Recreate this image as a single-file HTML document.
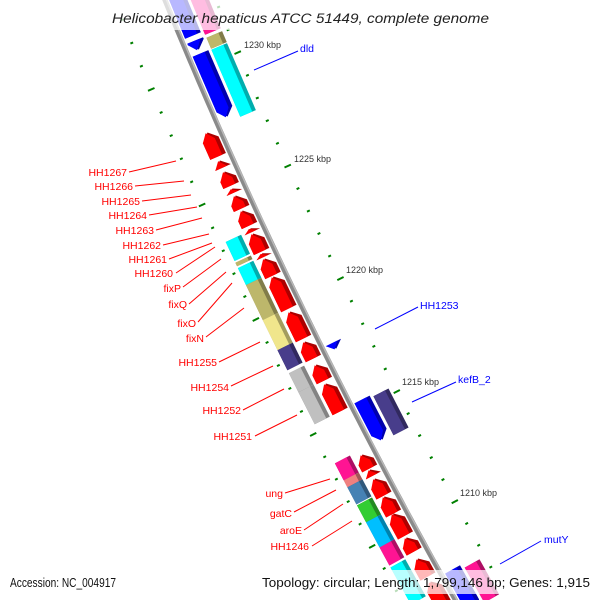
<!DOCTYPE html>
<html><head><meta charset="utf-8"><style>
html,body{margin:0;padding:0;background:#fff;}
svg{display:block;}
text{font-family:"Liberation Sans","DejaVu Sans",sans-serif;}
</style></head><body>
<svg id="s" width="600" height="600" xmlns="http://www.w3.org/2000/svg"></svg>
<script>
var S=document.getElementById('s');var out='';
function Bx(y){return 164.9+0.4076*y+0.0001275*y*y;}
function fr(y){var m=0.4076+0.000255*y,l=Math.hypot(m,1);return {t:[m/l,1/l],n:[1/l,-m/l]};}
function P(yb,f,s,d){return [Bx(yb)+s*f.t[0]+d*f.n[0], yb+s*f.t[1]+d*f.n[1]];}
function dark(c){var r=parseInt(c.substr(1,2),16),g=parseInt(c.substr(3,2),16),b=parseInt(c.substr(5,2),16);
 return 'rgb('+Math.round(r*.68)+','+Math.round(g*.68)+','+Math.round(b*.68)+')';}
var lanes={Ri:[4,21],Ro:[24,41],Li:[-21,-4],Lo:[-41,-24]};
function shape(yb,f,L,d1,d2,dir){
 var h=Math.min(8,L),a=-L/2,b=L/2,dm=(d1+d2)/2,pts;
 if(dir==1)pts=[[a,d1],[b-h,d1],[b,dm],[b-h,d2],[a,d2]];
 else if(dir==-1)pts=[[b,d1],[a+h,d1],[a,dm],[a+h,d2],[b,d2]];
 else pts=[[a,d1],[b,d1],[b,d2],[a,d2]];
 return pts.map(function(p){var q=P(yb,f,p[0],p[1]);return q[0].toFixed(1)+','+q[1].toFixed(1);}).join(' ');
}
function gene(y1,y2,lane,col,dir){
 var d=lanes[lane],dmid=(d[0]+d[1])/2,yc=(y1+y2)/2,f=fr(yc);
 var yb=yc+dmid*f.t[0];f=fr(yb);
 var L=Math.max(4,(y2-y1-3)/f.t[1]);
 out+='<polygon points="'+shape(yb,f,L,d[0],d[1],dir)+'" fill="'+dark(col)+'"/>';
 out+='<polygon points="'+shape(yb,f,L,d[0],d[1]-4,dir)+'" fill="'+col+'"/>';
}
var pts=[],pts2=[];for(var y=-10;y<=610;y+=10){var f=fr(y);pts.push(Bx(y).toFixed(1)+','+y);pts2.push((Bx(y)+1.5*f.n[0]).toFixed(1)+','+(y+1.5*f.n[1]).toFixed(1));}
out+='<polyline points="'+pts.join(' ')+'" fill="none" stroke="#8a8a8a" stroke-width="5"/>';
out+='<polyline points="'+pts2.join(' ')+'" fill="none" stroke="#b8b8b8" stroke-width="1.5"/>';
var maj=[71,185.5,299,413,524],tk=[];
for(var i=0;i<maj.length;i++){tk.push([maj[i],1]);if(i<maj.length-1)for(var k=1;k<5;k++)tk.push([maj[i]+(maj[i+1]-maj[i])*k/5,0]);}
for(var k=1;k<5;k++)tk.push([71-23*k,0]);for(var k=1;k<4;k++)tk.push([524+22*k,0]);
tk.forEach(function(t){var f=fr(t[0]);[1,-1].forEach(function(sg){var len=t[1]?3.5:1.5;
 var a=P(t[0],f,0,sg*47-len),b=P(t[0],f,0,sg*47+len);
 out+='<line x1="'+a[0].toFixed(1)+'" y1="'+a[1].toFixed(1)+'" x2="'+b[0].toFixed(1)+'" y2="'+b[1].toFixed(1)+'" stroke="#008000" stroke-width="2"/>';});});
[[-20,37,'Ri','#0000ff',0],[39,51,'Ri','#0000ff',1],[52,118,'Ri','#0000ff',1],[341,350,'Ri','#0000ff',1],[398,441,'Ri','#0000ff',1],[568,612,'Ri','#0000ff',1],
 [-20,33,'Ro','#ff1493',0],[33,47,'Ro','#bdb76b',0],[45,115,'Ro','#00ffff',0],[391,433,'Ro','#483d8b',0],[562,600,'Ro','#ff1493',0]
].forEach(function(g){gene.apply(null,g);});
[[131,158],[159,169],[170,187],[187,194],[194,210],[209,227],[227,233],[232,253],[252,258],[257,277],[275,310],[310,340],[340,360],[363,382],[382,413],[453,470],[468,477],[477,497],[495,515],[512,537],[536,553],[557,578],[580,612]].forEach(function(g){gene(g[0],g[1],'Li','#ff0000',-1);});
[[237,259,'#00ffff'],[258,264,'#bdb76b'],[263,283,'#00ffff'],[280,318,'#bdb76b'],[315,348,'#f0e68c'],[345,368,'#483d8b'],[368,390,'#c0c0c0'],[387,422,'#c0c0c0'],[458,478,'#ff1493'],[475,485,'#f08080'],[482,502,'#4682b4'],[500,520,'#32cd32'],[517,545,'#00bfff'],[542,563,'#ff1493'],[562,602,'#00ffff']].forEach(function(g){gene(g[0],g[1],'Lo',g[2],0);});
[[244,48,'1230 kbp'],[294,162,'1225 kbp'],[346,273,'1220 kbp'],[402,385,'1215 kbp'],[460,496,'1210 kbp']].forEach(function(t){
 out+='<text x="'+t[0]+'" y="'+t[1]+'" font-size="9" fill="#333">'+t[2]+'</text>';});
[['HH1267',127,176,129,172,176,161],['HH1266',133,190,135,186,184,181],['HH1265',140,205,142,201,191,195],['HH1264',147,219,149,215,197,207],
 ['HH1263',154,234,156,230,202,218],['HH1262',161,249,163,245,209,234],['HH1261',167,263,169,259,212,243],['HH1260',173,277,176,273,215,247],
 ['fixP',181,292,183,287,221,259],['fixQ',187,308,189,304,226,272],['fixO',196,327,198,322,232,283],['fixN',204,342,206,337,244,308],
 ['HH1255',217,366,219,362,260,342],['HH1254',229,391,231,386,273,366],['HH1252',241,414,243,410,284,389],['HH1251',252,440,255,436,297,415],
 ['ung',283,497,285,493,330,479],['gatC',292,517,294,512,336,490],['aroE',302,534,304,530,343,504],['HH1246',309,550,312,546,352,521]
].forEach(function(l){out+='<line x1="'+l[3]+'" y1="'+l[4]+'" x2="'+l[5]+'" y2="'+l[6]+'" stroke="#ff0000" stroke-width="1"/>';
 out+='<text x="'+l[1]+'" y="'+l[2]+'" font-size="10.5" fill="#ff0000" text-anchor="end">'+l[0]+'</text>';});
[['dld',300,52,254,70,298,51],['HH1253',420,309,375,329,418,307],['kefB_2',458,383,412,402,456,382],['mutY',544,543,500,564,541,541]].forEach(function(l){
 out+='<line x1="'+l[3]+'" y1="'+l[4]+'" x2="'+l[5]+'" y2="'+l[6]+'" stroke="#0000ff" stroke-width="1"/>';
 out+='<text x="'+l[1]+'" y="'+l[2]+'" font-size="10.5" fill="#0000ff">'+l[0]+'</text>';});
out+='<rect x="106" y="0" width="388" height="30" fill="#fff" opacity="0.72"/>';
out+='<text x="112" y="23" font-size="13.5" font-style="italic" fill="#222" textLength="377" lengthAdjust="spacingAndGlyphs">Helicobacter hepaticus ATCC 51449, complete genome</text>';
out+='<rect x="5" y="570" width="116" height="24" fill="#fff" opacity="0.72"/>';
out+='<rect x="257" y="570" width="338" height="24" fill="#fff" opacity="0.72"/>';
out+='<text x="10" y="587" font-size="12.5" fill="#111" textLength="106" lengthAdjust="spacingAndGlyphs">Accession: NC_004917</text>';
out+='<text x="262" y="587" font-size="12.5" fill="#111" textLength="328" lengthAdjust="spacingAndGlyphs">Topology: circular; Length: 1,799,146 bp; Genes: 1,915</text>';
S.innerHTML=out;
</script>
</body></html>
